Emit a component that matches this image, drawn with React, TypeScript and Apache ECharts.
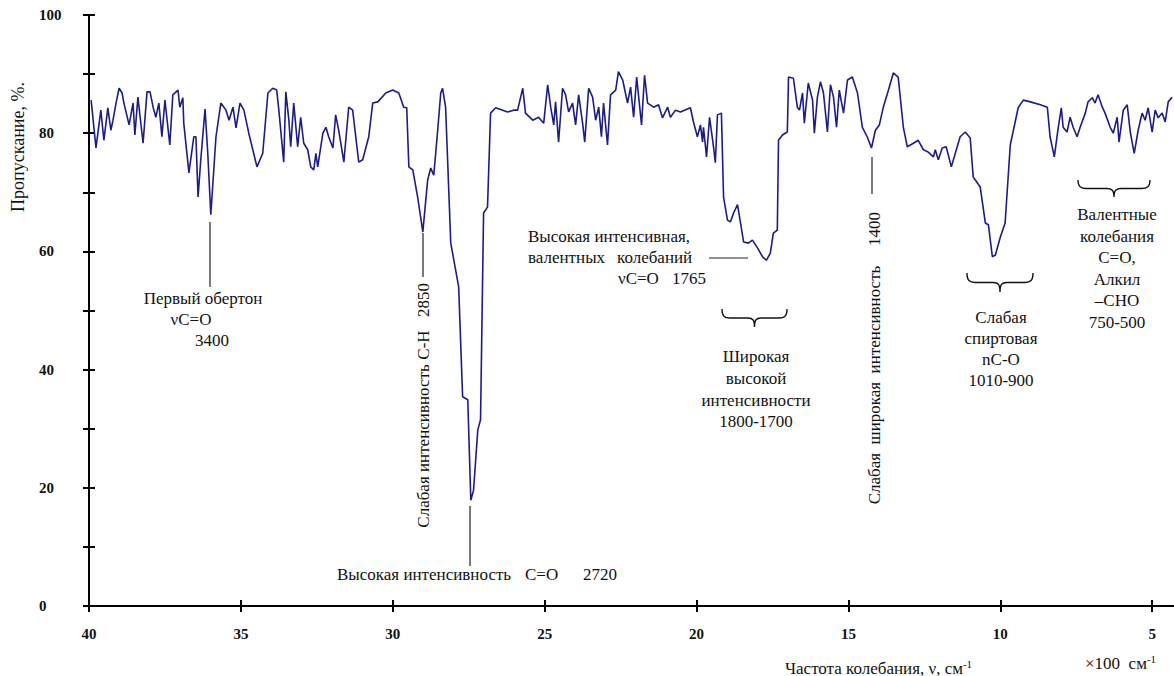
import React, { useEffect, useRef } from "react";
import * as echarts from "echarts";

// Wavenumber (×100 cm-1) and transmittance (%)
const wavenumbers = [
  39.93, 39.77, 39.61, 39.51, 39.38, 39.28, 39.21, 39.11, 39.01, 38.91, 38.85, 38.68, 38.55, 38.49, 38.39,
  38.22, 38.09, 37.99, 37.89, 37.8, 37.7, 37.6, 37.5, 37.34, 37.24, 37.07, 37.01, 36.91, 36.88, 36.71,
  36.55, 36.48, 36.41, 36.32, 36.18, 36.09, 35.99, 35.82, 35.66, 35.49, 35.39, 35.26, 35.16, 35.03, 34.9,
  34.74, 34.47, 34.28, 34.11, 33.95, 33.82, 33.75, 33.59, 33.52, 33.42, 33.36, 33.26, 33.13, 33.03, 32.93,
  32.8, 32.7, 32.6, 32.53, 32.47, 32.3, 32.2, 32.11, 31.97, 31.88, 31.78, 31.61, 31.45, 31.32, 31.12,
  30.99, 30.79, 30.66, 30.49, 30.23,
  30.0, 29.8, 29.64, 29.54, 29.47, 29.34, 29.18, 29.01, 28.85, 28.75, 28.65, 28.52, 28.42, 28.36, 28.26,
  28.09, 27.83, 27.7, 27.53, 27.43, 27.34, 27.2, 27.11, 27.01, 26.88, 26.78, 26.61, 26.22, 26.02, 25.89,
  25.72, 25.63, 25.39, 25.2, 25.03, 24.9, 24.8, 24.7, 24.64, 24.54, 24.41, 24.31, 24.21, 24.08, 23.98,
  23.88, 23.75, 23.68, 23.55, 23.42, 23.32, 23.22, 23.13, 23.06, 22.93, 22.83, 22.66, 22.57, 22.43, 22.27,
  22.17, 22.07, 21.97, 21.81, 21.71, 21.61, 21.41, 21.25, 21.12, 20.95, 20.86, 20.69, 20.53,
  20.2, 20.1, 19.97, 19.87, 19.8, 19.77, 19.67, 19.57, 19.44, 19.38, 19.31, 19.18, 19.11, 18.98, 18.88,
  18.78, 18.65, 18.55, 18.45, 18.29, 18.16, 17.99, 17.83, 17.7, 17.57, 17.47, 17.34, 17.3, 17.17, 17.01,
  16.97, 16.81, 16.68, 16.61, 16.51, 16.45, 16.32, 16.18, 16.12, 16.02, 15.92, 15.82, 15.69, 15.59, 15.49,
  15.39, 15.3, 15.16, 15.03, 14.87, 14.7, 14.54, 14.38, 14.24, 14.11, 13.98, 13.85, 13.68, 13.52, 13.36,
  13.19, 13.06, 12.86, 12.7, 12.53, 12.37, 12.2, 12.14, 12.04, 11.91, 11.78, 11.61, 11.48, 11.32, 11.15,
  10.99, 10.89, 10.66, 10.49, 10.39, 10.26, 10.16, 10.0, 9.84, 9.67, 9.41, 9.24, 9.01, 8.68, 8.45,
  8.36, 8.22, 8.09, 7.99, 7.93, 7.8, 7.7, 7.6, 7.47, 7.37, 7.2, 7.11, 6.97, 6.88, 6.78,
  6.64, 6.55, 6.38, 6.28, 6.15, 6.09, 5.95, 5.82, 5.72, 5.59, 5.46, 5.33, 5.23, 5.13, 5.0,
  4.9, 4.8, 4.67, 4.57, 4.47, 4.34,
];

const transmittance = [
  85.6, 77.5, 83.9, 78.8, 84.3, 80.5, 82.2, 85.1, 87.6, 86.8, 85.1, 81.4, 85.1, 79.7, 86.1,
  78.3, 87.0, 87.0, 84.4, 82.7, 85.1, 79.4, 85.6, 78.0, 86.5, 87.3, 84.4, 86.0, 81.7, 73.3,
  79.4, 79.4, 69.2, 75.5, 84.1, 76.6, 66.2, 79.4, 85.1, 83.9, 82.2, 84.4, 80.9, 85.1, 83.9,
  80.0, 74.3, 76.6, 86.8, 87.6, 87.3, 83.9, 75.1, 87.0, 82.2, 77.7, 85.1, 77.7, 82.7, 78.3,
  77.2, 74.3, 73.8, 76.6, 74.3, 80.0, 81.0, 79.4, 77.5, 83.1, 80.5, 75.1, 84.4, 83.9, 75.1,
  75.5, 79.4, 85.1, 85.3, 86.8,
  87.3, 86.8, 84.4, 84.3, 74.3, 73.8, 69.2, 63.3, 72.1, 74.1, 72.9, 80.5, 86.8, 87.6, 84.4,
  61.4, 54.0, 35.4, 34.9, 17.9, 19.6, 29.8, 31.5, 66.5, 67.5, 83.4, 84.3, 83.6, 83.9, 83.9,
  87.6, 83.4, 82.2, 82.7, 81.7, 88.2, 84.4, 81.4, 85.3, 78.5, 87.6, 86.5, 83.6, 85.1, 81.4,
  86.5, 81.7, 78.5, 87.6, 86.1, 82.2, 84.4, 79.4, 85.1, 78.0, 86.5, 87.3, 90.4, 89.0, 85.1,
  87.8, 82.7, 89.5, 81.4, 89.8, 85.1, 84.4, 84.8, 82.6, 84.4, 82.7, 83.9, 83.6,
  84.3, 81.9, 79.4, 81.4, 78.5, 81.0, 76.0, 82.7, 77.7, 75.0, 83.1, 83.4, 69.2, 65.3, 65.0,
  66.5, 67.9, 64.8, 61.6, 61.4, 61.9, 60.6, 59.1, 58.5, 59.7, 63.1, 63.6, 78.8, 79.7, 80.2,
  89.5, 89.3, 84.4, 83.9, 86.8, 81.7, 88.5, 85.6, 80.0, 86.1, 88.7, 86.8, 80.2, 88.2, 86.1,
  81.0, 87.3, 83.4, 89.0, 89.5, 86.8, 81.0, 79.4, 77.5, 80.5, 81.4, 84.4, 87.3, 90.2, 89.5,
  81.0, 77.7, 78.3, 78.8, 77.2, 76.8, 76.0, 77.2, 75.5, 77.5, 77.7, 74.3, 76.6, 79.4, 80.2,
  79.2, 72.6, 70.9, 64.8, 64.5, 59.1, 59.4, 62.4, 64.8, 78.0, 84.3, 85.6, 85.3, 84.8, 84.4,
  79.4, 76.0, 81.0, 84.3, 81.0, 80.2, 82.7, 81.0, 79.4, 81.0, 83.4, 85.3, 86.0, 85.1, 86.5,
  84.4, 83.4, 81.0, 80.0, 82.7, 78.5, 83.9, 84.8, 80.2, 76.6, 80.5, 83.4, 82.2, 84.3, 80.2,
  83.9, 82.6, 83.4, 81.9, 85.3, 86.1,
];

const xTickValues = [5, 10, 15, 20, 25, 30, 35, 40];
const yLabelValues = [0, 20, 40, 60, 80, 100];

const FONT = "'Liberation Serif', 'Times New Roman', serif";

function bracePath(w: number, h: number) {
  const m = h * 0.5;
  return (
    `M0,0 C0,${m * 0.8} ${w * 0.04},${m} ${w * 0.12},${m} ` +
    `L${w * 0.4},${m} C${w * 0.47},${m} ${w * 0.5},${m * 1.2} ${w * 0.5},${h} ` +
    `C${w * 0.5},${m * 1.2} ${w * 0.53},${m} ${w * 0.6},${m} ` +
    `L${w * 0.88},${m} C${w * 0.96},${m} ${w},${m * 0.8} ${w},0`
  );
}

echarts.graphic.registerShape("braceA", echarts.graphic.extendPath(bracePath(65, 18), {}));
echarts.graphic.registerShape("braceB", echarts.graphic.extendPath(bracePath(66, 19), {}));
echarts.graphic.registerShape("braceC", echarts.graphic.extendPath(bracePath(72, 17), {}));

function txt(text: string, x: number, y: number, opts: any = {}) {
  const align = opts.align || "center";
  const va = opts.va || "middle";
  const size = opts.size || 17;
  return {
    type: "text",
    x,
    y,
    rotation: opts.rotation || 0,
    silent: true,
    style: {
      text,
      fill: "#111",
      fontSize: size,
      fontFamily: FONT,
      fontWeight: opts.weight || "normal",
      align,
      textAlign: align,
      verticalAlign: va,
      textVerticalAlign: va,
      lineHeight: opts.lineHeight,
      rich: opts.rich,
    },
  };
}

function vline(x1: number, y1: number, x2: number, y2: number) {
  return {
    type: "line",
    silent: true,
    shape: { x1, y1, x2, y2 },
    style: { stroke: "#222", lineWidth: 1.2 },
  };
}

const supRich = {
  sup: { fontSize: 11, fontFamily: FONT, fill: "#111", verticalAlign: "top", lineHeight: 20 },
};

export default function App() {
  const ref = useRef<HTMLDivElement>(null);

  useEffect(() => {
    if (!ref.current) return;
    const chart = echarts.init(ref.current, null, { renderer: "svg" });
    const data = wavenumbers.map((w, i) => [w, transmittance[i]]);
    const axisBase = {
      type: "value",
      min: 4.28,
      max: 40,
      inverse: true,
      splitLine: { show: false },
    };
    const yBase = {
      type: "value",
      min: 0,
      max: 100,
      interval: 10,
      position: "left",
      splitLine: { show: false },
    };
    chart.setOption({
      animation: false,
      backgroundColor: "#fff",
      grid: { left: 89, right: 0, top: 15, bottom: 70, containLabel: false },
      xAxis: [
        {
          ...axisBase,
          position: "bottom",
          axisLine: { show: true, onZero: false, lineStyle: { color: "#000", width: 2 } },
          axisTick: {
            show: true,
            customValues: xTickValues,
            inside: false,
            length: 6,
            lineStyle: { color: "#000", width: 2 },
          },
          axisLabel: {
            customValues: xTickValues,
            margin: 20,
            fontSize: 15,
            fontFamily: FONT,
            fontWeight: "bold",
            color: "#111",
          },
        },
        {
          ...axisBase,
          position: "bottom",
          axisLine: { show: false, onZero: false },
          axisTick: {
            show: true,
            customValues: xTickValues,
            inside: true,
            length: 6,
            lineStyle: { color: "#000", width: 2 },
          },
          axisLabel: { show: false },
        },
      ],
      yAxis: [
        {
          ...yBase,
          axisLine: { show: true, onZero: false, lineStyle: { color: "#000", width: 2 } },
          axisTick: { show: true, inside: false, length: 6, lineStyle: { color: "#000", width: 2 } },
          axisLabel: {
            margin: 50,
            align: "left",
            fontSize: 15,
            fontFamily: FONT,
            fontWeight: "bold",
            color: "#111",
            formatter: (v: number) => (yLabelValues.indexOf(v) >= 0 ? String(v) : ""),
          },
        },
        {
          ...yBase,
          axisLine: { show: false, onZero: false },
          axisTick: { show: true, inside: true, length: 6, lineStyle: { color: "#000", width: 2 } },
          axisLabel: { show: false },
        },
      ],
      series: [
        {
          type: "line",
          xAxisIndex: 0,
          yAxisIndex: 0,
          data,
          showSymbol: false,
          symbol: "none",
          silent: true,
          lineStyle: { color: "#1c1c86", width: 1.6 },
        },
      ],
      graphic: {
        elements: [
          // axis names
          txt("Пропускание, %.", 18, 147, { rotation: Math.PI / 2, size: 18 }),
          txt("Частота колебания, ν, см{sup|-1}", 785, 668, { align: "left", size: 17, rich: supRich }),
          txt("×100  см{sup|-1}", 1085, 663, { align: "left", size: 17, rich: supRich }),

          // 3400 overtone
          vline(210, 222, 210, 287),
          txt("Первый обертон", 203, 298),
          txt("νC=O", 191, 319),
          txt("3400", 212, 340),

          // 2850 C-H
          vline(423, 233, 423, 277),
          txt("2850", 423, 300, { rotation: Math.PI / 2 }),
          txt("С-Н", 423, 345, { rotation: Math.PI / 2 }),
          txt("Слабая интенсивность", 423, 446, { rotation: Math.PI / 2 }),

          // 2720 C=O
          vline(470, 506, 470, 566),
          txt("Высокая интенсивность", 337, 574, { align: "left" }),
          txt("С=О", 525, 574, { align: "left" }),
          txt("2720", 583, 574, { align: "left" }),

          // 1765
          txt("Высокая интенсивная,", 528, 236, { align: "left" }),
          txt("валентных", 528, 257, { align: "left" }),
          txt("колебаний", 617, 257, { align: "left" }),
          vline(709, 258, 748, 258),
          txt("νC=O", 618, 278, { align: "left" }),
          txt("1765", 672, 278, { align: "left" }),

          // 1800-1700 brace
          {
            type: "braceA",
            x: 722,
            y: 309,
            silent: true,
            style: { stroke: "#111", fill: "none", lineWidth: 1.4 },
          },
          txt("Широкая\nвысокой\nинтенсивности\n1800-1700", 756, 346, { va: "top", lineHeight: 21.6 }),

          // 1400
          vline(872, 157, 872, 194),
          txt("1400", 874, 229, { rotation: Math.PI / 2 }),
          txt("Слабая  широкая  интенсивность", 874, 385, { rotation: Math.PI / 2 }),

          // 1010-900 brace
          {
            type: "braceB",
            x: 967,
            y: 273,
            silent: true,
            style: { stroke: "#111", fill: "none", lineWidth: 1.4 },
          },
          txt("Слабая\nспиртовая\nnC-O\n1010-900", 1001, 307, { va: "top", lineHeight: 21 }),

          // 750-500 brace
          {
            type: "braceC",
            x: 1078,
            y: 180,
            silent: true,
            style: { stroke: "#111", fill: "none", lineWidth: 1.4 },
          },
          txt("Валентные\nколебания\nС=О,\nАлкил\n–СНО\n750-500", 1117, 204, {
            va: "top",
            lineHeight: 21.5,
          }),
        ],
      },
    });
    return () => chart.dispose();
  }, []);

  return (
    <div
      ref={ref}
      style={{ position: "fixed", left: 0, top: 0, width: 1174, height: 676, background: "#fff" }}
    />
  );
}
